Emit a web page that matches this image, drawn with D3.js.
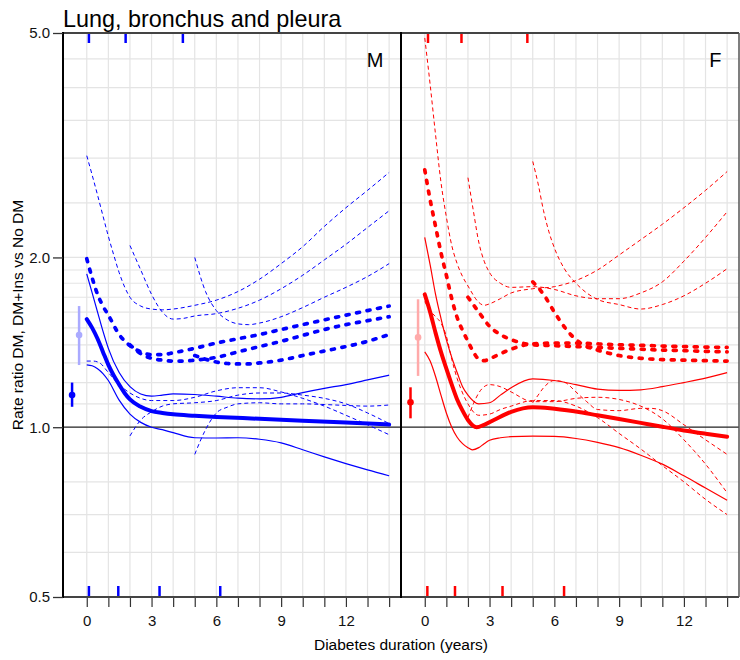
<!DOCTYPE html>
<html>
<head>
<meta charset="utf-8">
<script src="https://cdn.jsdelivr.net/npm/d3@7"></script>
<style>
  body { margin: 0; background: #fff; }
  text { font-family: "Liberation Sans", Arial, sans-serif; }
</style>
</head>
<body>
<svg id="chart" width="740" height="660"></svg>
<script>
// ---- data: [duration in years, rate ratio] ----
// Men
var mDM      = [[0,1.555],[0.25,1.5],[0.5,1.435],[0.75,1.36],[1,1.29],[1.25,1.235],[1.5,1.19],[1.75,1.15],[2,1.12],[2.5,1.087],[3,1.068],[3.5,1.06],[4,1.054],[5,1.048],[6,1.043],[8,1.035],[10,1.027],[12,1.019],[14,1.011]];
var mDMhi    = [[0,1.87],[0.25,1.73],[0.5,1.6],[0.75,1.48],[1,1.38],[1.5,1.25],[2,1.18],[2.5,1.145],[3,1.135],[3.5,1.14],[4,1.146],[5,1.143],[6,1.135],[7,1.126],[8,1.123],[9,1.13],[10,1.152],[11,1.172],[12,1.19],[13,1.213],[14,1.237]];
var mDMlo    = [[0,1.29],[0.25,1.285],[0.5,1.27],[0.75,1.245],[1,1.21],[1.5,1.117],[2,1.055],[2.5,1.02],[3,1.0],[3.5,0.99],[4,0.978],[5,0.958],[6,0.957],[7,0.958],[8,0.952],[9,0.938],[10,0.912],[11,0.886],[12,0.862],[13,0.84],[14,0.82]];
var mIns0    = [[0,1.99],[0.25,1.84],[0.5,1.72],[0.75,1.64],[1,1.58],[1.5,1.46],[2,1.395],[2.5,1.36],[3,1.345],[3.5,1.345],[4,1.355],[5,1.38],[6,1.41],[7,1.435],[8,1.46],[9,1.49],[10,1.52],[11,1.55],[12,1.58],[13,1.61],[14,1.64]];
var mIns0hi  = [[0,3.03],[0.25,2.8],[0.5,2.58],[0.75,2.37],[1,2.18],[1.25,2.02],[1.5,1.88],[2,1.7],[2.5,1.64],[3,1.62],[3.5,1.615],[4,1.62],[5,1.645],[6,1.68],[7,1.74],[8,1.83],[9,1.95],[10,2.09],[11,2.27],[12,2.45],[13,2.63],[14,2.83]];
var mIns0lo  = [[0,1.31],[0.3,1.31],[0.6,1.3],[1,1.25],[1.5,1.19],[2,1.15],[2.5,1.125],[3,1.115],[4,1.115],[5,1.13],[6,1.16],[7,1.175],[8,1.175],[9,1.155],[10,1.125],[11,1.09],[12,1.05],[13,1.01],[14,0.97]];
var mIns2    = [[2,1.4],[2.5,1.35],[3,1.325],[3.5,1.315],[4,1.31],[4.5,1.31],[5,1.315],[6,1.33],[7,1.36],[8,1.39],[9,1.42],[10,1.455],[11,1.49],[12,1.52],[13,1.545],[14,1.57]];
var mIns2hi  = [[2,2.1],[2.5,1.9],[3,1.72],[3.5,1.6],[4,1.555],[4.5,1.56],[5,1.575],[6,1.59],[7,1.625],[8,1.68],[9,1.76],[10,1.86],[11,1.98],[12,2.11],[13,2.26],[14,2.42]];
var mIns2lo  = [[2,0.965],[2.5,1.03],[3,1.065],[3.5,1.09],[4,1.1],[5,1.105],[6,1.115],[7,1.14],[8,1.15],[9,1.15],[10,1.14],[11,1.125],[12,1.1],[13,1.06],[14,1.015]];
var mIns5    = [[5,1.34],[5.5,1.32],[6,1.305],[6.5,1.297],[7,1.295],[7.5,1.295],[8,1.3],[9,1.315],[10,1.34],[11,1.365],[12,1.39],[13,1.42],[14,1.46]];
var mIns5hi  = [[5,2.0],[5.5,1.74],[6,1.61],[6.5,1.55],[7,1.525],[7.5,1.52],[8,1.53],[9,1.57],[10,1.63],[11,1.7],[12,1.77],[13,1.85],[14,1.95]];
var mIns5lo  = [[5,0.895],[5.5,0.99],[6,1.06],[6.5,1.085],[7,1.1],[8,1.105],[9,1.1],[10,1.1],[11,1.097],[12,1.093],[13,1.09],[14,1.095]];
// Women
var fDM      = [[0,1.72],[0.25,1.6],[0.5,1.47],[0.75,1.36],[1,1.27],[1.25,1.19],[1.5,1.12],[1.75,1.07],[2,1.03],[2.4,1.0],[2.75,1.01],[3.2,1.03],[4,1.065],[5,1.085],[5.8,1.081],[7,1.066],[8,1.05],[9,1.034],[10,1.018],[11,1.002],[12,0.987],[13,0.974],[14,0.962]];
var fDMhi    = [[0,2.17],[0.25,1.94],[0.5,1.72],[0.75,1.56],[1,1.43],[1.25,1.33],[1.5,1.25],[1.75,1.18],[2,1.14],[2.5,1.1],[3,1.105],[3.5,1.14],[4,1.175],[5,1.218],[6,1.21],[7,1.19],[8,1.168],[9,1.162],[10,1.165],[11,1.18],[12,1.2],[13,1.222],[14,1.25]];
var fDMlo    = [[0,1.36],[0.25,1.31],[0.5,1.23],[0.75,1.14],[1,1.06],[1.25,1.0],[1.5,0.96],[1.75,0.935],[2,0.92],[2.2,0.912],[2.5,0.92],[2.75,0.935],[3,0.948],[3.5,0.958],[4,0.962],[5,0.964],[6,0.963],[7,0.955],[8,0.94],[9,0.92],[10,0.892],[11,0.86],[12,0.82],[13,0.78],[14,0.742]];
var fIns0    = [[0,2.86],[0.25,2.53],[0.5,2.27],[0.75,2.04],[1,1.86],[1.25,1.69],[1.5,1.565],[1.75,1.485],[2,1.42],[2.25,1.36],[2.5,1.32],[2.75,1.312],[3,1.322],[3.5,1.35],[4,1.375],[4.5,1.395],[5,1.405],[6,1.41],[7,1.41],[8,1.405],[9,1.4],[10,1.397],[11,1.393],[12,1.39],[13,1.387],[14,1.385]];
var fIns0hi  = [[0,4.9],[0.25,4.05],[0.5,3.3],[0.75,2.72],[1,2.36],[1.25,2.1],[1.5,1.95],[1.75,1.85],[2,1.78],[2.5,1.665],[2.75,1.645],[3,1.655],[3.5,1.69],[4,1.73],[5,1.76],[6,1.775],[7,1.82],[8,1.9],[9,2.02],[10,2.15],[11,2.29],[12,2.45],[13,2.63],[14,2.84]];
var fIns0lo  = [[0,1.67],[0.25,1.61],[0.5,1.57],[0.75,1.53],[1,1.45],[1.25,1.32],[1.5,1.22],[1.75,1.15],[2,1.1],[2.5,1.05],[3,1.055],[3.5,1.075],[4,1.09],[5,1.115],[6,1.115],[7,1.09],[8,1.04],[9,0.975],[10,0.915],[11,0.855],[12,0.8],[13,0.745],[14,0.7]];
var fIns2    = [[2,1.7],[2.5,1.6],[3,1.51],[3.5,1.46],[4,1.43],[4.5,1.41],[5,1.4],[6,1.395],[7,1.39],[8,1.385],[9,1.38],[10,1.375],[11,1.37],[12,1.367],[13,1.363],[14,1.36]];
var fIns2hi  = [[2,2.77],[2.25,2.42],[2.5,2.13],[2.75,1.97],[3,1.88],[3.5,1.8],[4,1.77],[5,1.775],[6,1.755],[7,1.71],[8,1.69],[9,1.69],[10,1.73],[11,1.81],[12,1.97],[13,2.17],[14,2.41]];
var fIns2lo  = [[2,1.04],[2.25,1.1],[2.5,1.15],[2.75,1.18],[3,1.19],[3.5,1.18],[4,1.155],[5,1.11],[6,1.11],[7,1.125],[8,1.13],[9,1.12],[10,1.09],[11,1.035],[12,0.95],[13,0.86],[14,0.765]];
var fIns5    = [[5,1.81],[5.5,1.72],[6,1.6],[6.5,1.5],[7,1.43],[7.5,1.39],[8,1.37],[9,1.34],[10,1.325],[11,1.318],[12,1.315],[13,1.312],[14,1.31]];
var fIns5hi  = [[5,2.96],[5.25,2.7],[5.5,2.42],[5.75,2.22],[6,2.08],[6.5,1.9],[7,1.8],[7.5,1.73],[8,1.685],[9,1.65],[10,1.62],[11,1.65],[12,1.71],[13,1.8],[14,1.91]];
var fIns5lo  = [[5,1.105],[5.25,1.14],[5.5,1.175],[6,1.21],[6.5,1.2],[7,1.155],[7.5,1.11],[8,1.075],[9,1.07],[10,1.08],[10.5,1.08],[11,1.07],[12,1.01],[13,0.95],[14,0.895]];

// overall rate ratios shown as points left of zero: [x position, est, lo, hi]
var mPoints = [[-0.68,1.14,1.087,1.2],[-0.355,1.457,1.289,1.64]];
var fPoints = [[-0.66,1.107,1.037,1.177],[-0.31,1.443,1.233,1.686]];

// rug marks (years)
var mRugTop = [0.1,1.8,4.45];
var mRugBottom = [0.1,1.46,3.37,6.18];
var fRugTop = [0.15,1.7,4.75];
var fRugBottom = [0.12,1.4,3.6,6.45];

var yTicks = [0.5,1,2,5];
var yGrid = [0.6,0.7,0.8,0.9,1.1,1.2,1.3,1.4,1.5,1.6,1.7,1.8,1.9,2,2.5,3,3.5,4,4.5];
var xTicks = d3.range(0,15);
var xLabels = [0,3,6,9,12];

// ---- layout ----
var plotTop = 33, plotBottom = 597;
var svg = d3.select("#chart");

var y = d3.scaleLog().domain([0.5,5]).range([plotBottom, plotTop]);

var panels = [
  {name:"M", left:63, right:401, col:"#0000ff", light:"#aaaaff",
   est:[mDM], estCI:[mDMhi,mDMlo], ins:[mIns0,mIns2,mIns5], insCI:[mIns0hi,mIns0lo,mIns2hi,mIns2lo,mIns5hi,mIns5lo],
   pts:mPoints, rugTop:mRugTop, rugBottom:mRugBottom},
  {name:"F", left:401, right:739, col:"#ff0000", light:"#ffaaaa",
   est:[fDM], estCI:[fDMhi,fDMlo], ins:[fIns0,fIns2,fIns5], insCI:[fIns0hi,fIns0lo,fIns2hi,fIns2lo,fIns5hi,fIns5lo],
   pts:fPoints, rugTop:fRugTop, rugBottom:fRugBottom}
];

panels.forEach(function(p, i) {
  var x = d3.scaleLinear().domain([-1.1,14.55]).range([p.left, p.right]);
  var g = svg.append("g");

  // grid
  g.selectAll(".vg").data(xTicks).enter().append("line")
    .attr("x1", function(d){ return x(d); }).attr("x2", function(d){ return x(d); })
    .attr("y1", plotTop).attr("y2", plotBottom)
    .attr("stroke", "#e4e4e4").attr("stroke-width", 1.2);
  g.selectAll(".hg").data(yGrid).enter().append("line")
    .attr("x1", p.left).attr("x2", p.right)
    .attr("y1", function(d){ return y(d); }).attr("y2", function(d){ return y(d); })
    .attr("stroke", "#e4e4e4").attr("stroke-width", 1.2);

  // reference line at 1
  g.append("line").attr("x1", p.left).attr("x2", p.right)
    .attr("y1", y(1)).attr("y2", y(1))
    .attr("stroke", "#222").attr("stroke-width", 1.3);

  // x axis
  var xAxis = g.append("g")
    .attr("transform", "translate(0," + plotBottom + ")")
    .call(d3.axisBottom(x).tickValues(xTicks)
      .tickFormat(function(d){ return xLabels.indexOf(d) >= 0 ? d : ""; })
      .tickSize(10).tickSizeOuter(0).tickPadding(8));
  xAxis.select(".domain").remove();
  xAxis.selectAll("line").attr("stroke", "#333").attr("stroke-width", 1.2);
  xAxis.selectAll("text").attr("font-size", 15).attr("fill", "#111")
    .style("font-family", "'Liberation Sans', Arial, sans-serif");

  // clip region
  var clipId = "clip" + i;
  svg.append("clipPath").attr("id", clipId).append("rect")
    .attr("x", p.left).attr("y", plotTop).attr("width", p.right - p.left).attr("height", plotBottom - plotTop);
  var plot = g.append("g").attr("clip-path", "url(#" + clipId + ")");

  var line = d3.line()
    .x(function(d){ return x(d[0]); })
    .y(function(d){ return y(d[1]); })
    .curve(d3.curveMonotoneX);

  // thin dashed CIs for DM+Ins
  plot.selectAll(".insci").data(p.insCI).enter().append("path")
    .attr("d", line).attr("fill", "none").attr("stroke", p.col)
    .attr("stroke-width", 1).attr("stroke-dasharray", "4,3");
  // thin solid CIs for DM
  plot.selectAll(".estci").data(p.estCI).enter().append("path")
    .attr("d", line).attr("fill", "none").attr("stroke", p.col)
    .attr("stroke-width", 1.2);
  // thick dashed DM+Ins estimates
  plot.selectAll(".ins").data(p.ins).enter().append("path")
    .attr("d", line).attr("fill", "none").attr("stroke", p.col)
    .attr("stroke-width", 3.7).attr("stroke-linecap", "round")
    .attr("stroke-dasharray", "3,7.7");
  // thick solid DM estimate
  plot.selectAll(".est").data(p.est).enter().append("path")
    .attr("d", line).attr("fill", "none").attr("stroke", p.col)
    .attr("stroke-width", 4).attr("stroke-linecap", "round");

  // point estimates with CI bars
  var cols = [p.col, p.light];
  p.pts.forEach(function(d, j) {
    g.append("line").attr("x1", x(d[0])).attr("x2", x(d[0]))
      .attr("y1", y(d[2])).attr("y2", y(d[3]))
      .attr("stroke", cols[j]).attr("stroke-width", 2.5);
    g.append("circle").attr("cx", x(d[0])).attr("cy", y(d[1])).attr("r", 3.3)
      .attr("fill", cols[j]);
  });

  // rugs
  g.selectAll(".rt").data(p.rugTop).enter().append("line")
    .attr("x1", function(d){ return x(d); }).attr("x2", function(d){ return x(d); })
    .attr("y1", plotTop).attr("y2", plotTop + 10)
    .attr("stroke", p.col).attr("stroke-width", 2.5);
  g.selectAll(".rb").data(p.rugBottom).enter().append("line")
    .attr("x1", function(d){ return x(d); }).attr("x2", function(d){ return x(d); })
    .attr("y1", plotBottom - 11).attr("y2", plotBottom)
    .attr("stroke", p.col).attr("stroke-width", 2.5);

  // panel label
  g.append("text").attr("x", p.right - 17.5).attr("y", 67)
    .attr("text-anchor", "end").attr("font-size", 20).text(p.name);

  // frame: left line black, top and bottom dark grey
  g.append("line").attr("x1", p.left).attr("x2", p.right).attr("y1", plotTop).attr("y2", plotTop)
    .attr("stroke", "#444").attr("stroke-width", 2);
  g.append("line").attr("x1", p.left).attr("x2", p.right).attr("y1", plotBottom).attr("y2", plotBottom)
    .attr("stroke", "#444").attr("stroke-width", 2);
  g.append("line").attr("x1", p.left).attr("x2", p.left).attr("y1", plotTop - 1).attr("y2", plotBottom + 1)
    .attr("stroke", "#000").attr("stroke-width", 2);
});

// right edge
svg.append("line").attr("x1", 739).attr("x2", 739).attr("y1", plotTop).attr("y2", plotBottom)
  .attr("stroke", "#555").attr("stroke-width", 1.5);

// y axis
var yAxis = svg.append("g").attr("transform", "translate(63,0)")
  .call(d3.axisLeft(y).tickValues(yTicks).tickFormat(d3.format(".1f"))
    .tickSize(10).tickSizeOuter(0).tickPadding(3));
yAxis.select(".domain").remove();
yAxis.selectAll("line").attr("stroke", "#333").attr("stroke-width", 1.3);
yAxis.selectAll("text").attr("font-size", 15).attr("fill", "#111")
  .style("font-family", "'Liberation Sans', Arial, sans-serif");

// titles
svg.append("text").attr("x", 63).attr("y", 27).attr("font-size", 23.4).text("Lung, bronchus and pleura");
svg.append("text").attr("x", 401).attr("y", 650).attr("text-anchor", "middle")
  .attr("font-size", 15.5).text("Diabetes duration (years)");
svg.append("text").attr("transform", "translate(23,315) rotate(-90)")
  .attr("text-anchor", "middle").attr("font-size", 15.5).text("Rate ratio DM, DM+Ins vs No DM");
</script>
</body>
</html>
